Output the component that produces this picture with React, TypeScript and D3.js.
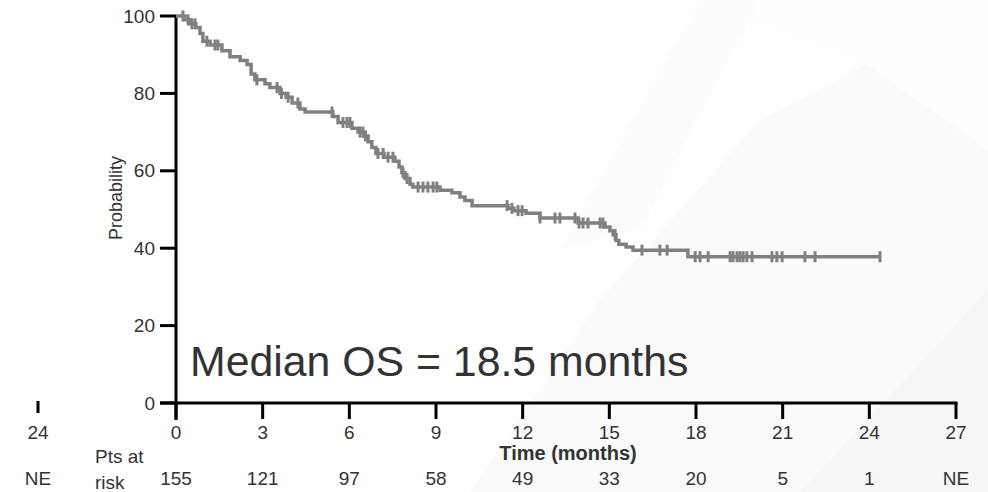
import React from "react";
import * as d3 from "d3";

// Kaplan-Meier step data (months, survival %)
const kmTime = [0, 0.31, 0.48, 0.69, 0.83, 0.93, 1.18, 1.59, 1.87, 2.22, 2.46, 2.6, 2.73, 3.08, 3.25, 3.6, 3.81, 4.02, 4.29, 4.47, 5.43, 5.61, 6.09, 6.3, 6.51, 6.65, 6.78, 6.92, 7.2, 7.58, 7.72, 7.82, 7.93, 8.1, 8.2, 9.14, 9.55, 9.83, 10.0, 10.25, 11.49, 11.7, 12.12, 12.6, 13.92, 14.85, 15.02, 15.13, 15.23, 15.33, 15.58, 15.82, 17.72];
const kmSurv = [100, 99, 98, 97, 95.5, 93.5, 92.5, 91, 89.5, 88.5, 87.5, 85, 83.5, 82.5, 81.5, 80, 79, 77.5, 76, 75.2, 74, 72.5, 71, 70, 69, 67.5, 66, 64.5, 63.5, 62.5, 61, 59.5, 58, 56.5, 55.8, 55, 54.3, 53.2, 52.3, 51, 50.3, 49.7, 49, 47.8, 46.5, 45.5, 44.5, 43.5, 42, 41, 40.3, 39.5, 37.8];
const lastTime = 24.37;

const censorTimes = [0.24, 0.42, 0.55, 0.66, 1.07, 1.35, 1.45, 2.8, 3.5, 3.65, 3.88, 4.22, 5.4, 5.78, 5.92, 6.02, 6.37, 6.47, 6.56, 6.99, 7.17, 7.34, 7.51, 7.86, 8.0, 8.38, 8.55, 8.72, 8.9, 9.03, 11.46, 11.63, 11.84, 11.98, 12.6, 13.12, 13.29, 13.81, 13.95, 14.09, 14.26, 14.68, 14.78, 15.2, 16.13, 16.75, 17.0, 17.97, 18.14, 18.42, 19.18, 19.28, 19.42, 19.52, 19.63, 19.76, 19.94, 20.63, 20.8, 20.98, 21.77, 22.12, 24.37];

const xTicks = [0, 3, 6, 9, 12, 15, 18, 21, 24, 27];
const yTicks = [0, 20, 40, 60, 80, 100];
const atRisk = ["155", "121", "97", "58", "49", "33", "20", "5", "1", "NE"];

const FONT = "'Liberation Sans', Arial, Helvetica, sans-serif";

export default function App() {
  const W = 988, H = 492;
  const x = d3.scaleLinear().domain([0, 27]).range([176, 956]);
  const y = d3.scaleLinear().domain([0, 100]).range([403, 16]);

  const pts: [number, number][] = kmTime.map((t, i) => [t, kmSurv[i]]);
  pts.push([lastTime, kmSurv[kmSurv.length - 1]]);
  const line = d3
    .line<[number, number]>()
    .x((d) => x(d[0]))
    .y((d) => y(d[1]))
    .curve(d3.curveStepAfter);

  const survAt = (t: number) => {
    const i = d3.bisectRight(kmTime, t) - 1;
    return kmSurv[Math.max(0, i)];
  };

  const textCol = "#333";

  return (
    <svg width={W} height={H} style={{ position: "absolute", left: 0, top: 0, background: "#fff" }} fontFamily={FONT}>
      {/* faint background shapes */}
      <polygon points="470,492 600,300 760,120 988,0 988,492" fill="#fafafa" />
      <polygon points="700,0 988,0 988,150 860,60" fill="#fefefe" />
      <polygon points="800,492 988,290 988,492" fill="#f6f6f6" />
      <polygon points="560,250 700,0 760,0 640,230" fill="#fcfcfc" />

      {/* axes */}
      <line x1={x(0)} x2={x(0)} y1={y(100)} y2={420} stroke="#000" strokeWidth={3} />
      <line x1={160} x2={x(27) + 1.5} y1={y(0)} y2={y(0)} stroke="#000" strokeWidth={3} />
      {yTicks.map((v) => (
        <g key={"y" + v}>
          <line x1={160} x2={x(0)} y1={y(v)} y2={y(v)} stroke="#000" strokeWidth={3} />
          <text x={155} y={y(v)} dy="0.35em" textAnchor="end" fontSize={19} fill={textCol}>
            {v}
          </text>
        </g>
      ))}
      {xTicks.map((v) => (
        <g key={"x" + v}>
          <line x1={x(v)} x2={x(v)} y1={y(0)} y2={419} stroke="#000" strokeWidth={3} />
          <text x={x(v)} y={439} textAnchor="middle" fontSize={19} fill={textCol}>
            {v}
          </text>
        </g>
      ))}

      {/* stray left fragment */}
      <line x1={38} x2={38} y1={401} y2={413} stroke="#000" strokeWidth={3} />
      <text x={38} y={439} textAnchor="middle" fontSize={19} fill={textCol}>24</text>
      <text x={38} y={485} textAnchor="middle" fontSize={19} fill={textCol}>NE</text>

      <text
        transform={`translate(122,${198}) rotate(-90)`}
        textAnchor="middle"
        fontSize={18}
        fill={textCol}
      >
        Probability
      </text>

      <text x={568} y={460} textAnchor="middle" fontSize={20} fontWeight="bold" fill={textCol}>
        Time (months)
      </text>

      <text x={95} y={463} fontSize={19} fill={textCol}>Pts at</text>
      <text x={95} y={489} fontSize={19} fill={textCol}>risk</text>
      {atRisk.map((v, i) => (
        <text key={"r" + i} x={x(xTicks[i])} y={485} textAnchor="middle" fontSize={19} fill={textCol}>
          {v}
        </text>
      ))}

      {/* KM curve */}
      <path d={line(pts) || ""} fill="none" stroke="#808080" strokeWidth={3.5} />
      {censorTimes.map((t, i) => (
        <line
          key={"c" + i}
          x1={x(t)}
          x2={x(t)}
          y1={y(survAt(t)) - 5.5}
          y2={y(survAt(t)) + 5.5}
          stroke="#808080"
          strokeWidth={3}
        />
      ))}

      <text x={190} y={376} fontSize={42.8} fill={textCol}>
        Median OS = 18.5 months
      </text>
    </svg>
  );
}
